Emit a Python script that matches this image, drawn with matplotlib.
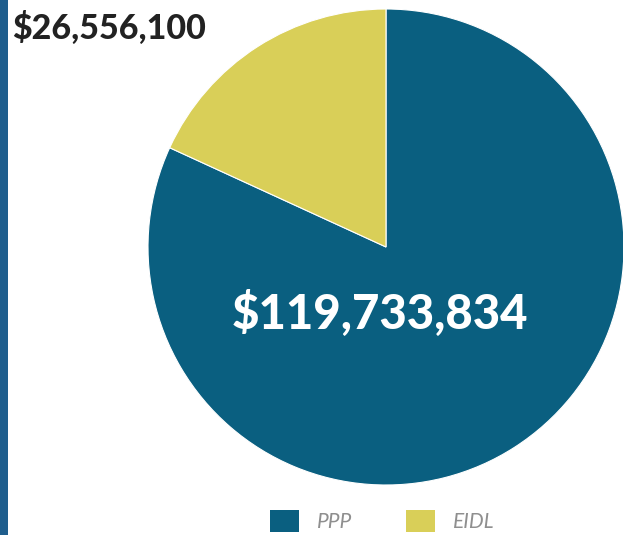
import matplotlib
matplotlib.use("Agg")
import matplotlib.pyplot as plt
from matplotlib.patches import Rectangle

# loan totals by program
programs = ["PPP", "EIDL"]
amounts = [119733834, 26556100]
colors = ["#0a5f80", "#d9cf58"]

W, H = 623, 535
fig = plt.figure(figsize=(W / 100, H / 100), dpi=100)
fig.patch.set_facecolor("white")

# blue strip down the left edge
fig.patches.append(Rectangle((0, 0), 8 / W, 1, transform=fig.transFigure,
                             facecolor="#1f5e8d", edgecolor="none", zorder=0))

# pie centred at (386, 247) px from top, radius 238 px
cx, cy, r = 386, 247, 238
ax = fig.add_axes([(cx - r) / W, (H - cy - r) / H, 2 * r / W, 2 * r / H])
wedges, _ = ax.pie(amounts, colors=colors, startangle=90, counterclock=False,
                   wedgeprops=dict(edgecolor="white", linewidth=0.8))
ax.set_xlim(-1, 1)
ax.set_ylim(-1, 1)
ax.set_aspect("equal")

fig.text(12 / W, 1 - 28 / H, "${:,}".format(amounts[1]), ha="left", va="center",
         fontsize=24.5, fontweight="black", family="Lato", color="#222222")
fig.text(380 / W, 1 - 314 / H, "${:,}".format(amounts[0]), ha="center", va="center",
         fontsize=34, fontweight="black", family="Lato", color="white")

leg = fig.legend(wedges, programs, loc="center", bbox_to_anchor=(382 / W, 1 - 521 / H),
                 ncol=2, frameon=False, handlelength=1.4, handleheight=1.3,
                 columnspacing=2.6, handletextpad=0.85,
                 prop=dict(family="Lato", style="italic", weight="normal", size=15))
for t in leg.get_texts():
    t.set_color("#8f8f8f")
for h in leg.legend_handles:
    h.set_edgecolor("none")

fig.savefig("out.png", dpi=100)
